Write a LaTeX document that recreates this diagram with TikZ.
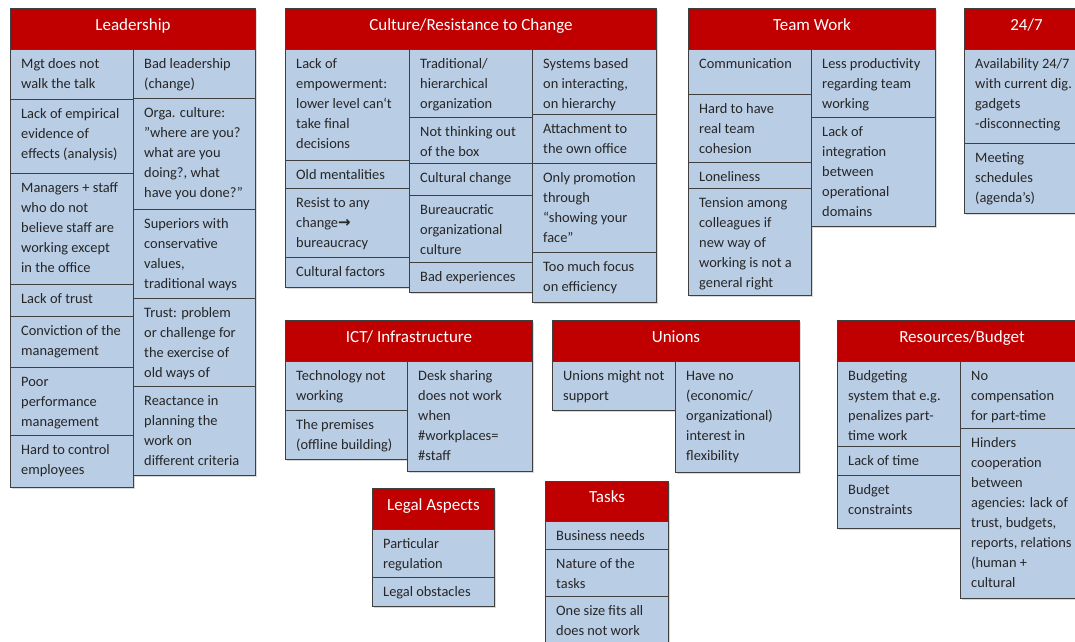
\documentclass[tikz,border=0pt]{standalone}
\usepackage{fontspec}
\setmainfont{Carlito}
\newfontfamily\arrowfont{DejaVu Sans}
\usepackage{tikz}
\usetikzlibrary{shadows}
\definecolor{headred}{HTML}{C00000}
\definecolor{cellblue}{HTML}{B9CDE5}
\definecolor{edgegray}{HTML}{3F3F3F}
\tikzstyle{headbox} = [draw=edgegray, line width=1pt, fill=headred, text=white,
   anchor=north west, inner sep=0pt, minimum height=41, text height=10, text depth=8,
   font=\fontsize{17}{20}\selectfont,
   drop shadow={shadow xshift=1.5pt, shadow yshift=-1.5pt, opacity=.3}]
\tikzstyle{cellbox} = [draw=edgegray, line width=1pt, fill=cellblue,
   anchor=north west, inner sep=0pt,
   drop shadow={shadow xshift=1.5pt, shadow yshift=-1.5pt, opacity=.3}]
\tikzstyle{celltext} = [anchor=north west, inner sep=0pt, align=left, text=black!85,
   font=\fontsize{14.4}{20}\selectfont]
% one cell: name, left, top, width, height, text
\newcommand{\mkcell}[6]{%
	\node[cellbox, minimum width=#4, minimum height=#5] (#1) at (#2,-#3) {};
	\node[celltext] (#1txt) at ([shift={(11,-5)}]#1.north west) {\strut #6};}

\begin{document}
\begin{tikzpicture}[x=1pt, y=1pt]
	\useasboundingbox (0,0) rectangle (1075,-641);
	\clip (0,0) rectangle (1075,-641);

	% Leadership
	\node[headbox, minimum width=245] (lead) at (10,-8) {Leadership};
	\mkcell{ldA}{10}{49}{123}{50}{Mgt does not\\walk the talk}
	\mkcell{ldB}{10}{99}{123}{74}{Lack of empirical\\evidence of\\effects (analysis)}
	\mkcell{ldC}{10}{173}{123}{111}{Managers + staff\\who do not\\believe staff are\\working except\\in the office}
	\mkcell{ldD}{10}{284}{123}{32}{Lack of trust}
	\mkcell{ldE}{10}{316}{123}{51}{Conviction of the\\management}
	\mkcell{ldF}{10}{367}{123}{68}{Poor\\performance\\management}
	\mkcell{ldG}{10}{435}{123}{52}{Hard to control\\employees}
	\mkcell{ldH}{133}{49}{122}{49}{Bad leadership\\(change)}
	\mkcell{ldI}{133}{98}{122}{111}{Orga. culture:\\”where are you?\\what are you\\doing?, what\\have you done?”}
	\mkcell{ldJ}{133}{209}{122}{89}{Superiors with\\conservative\\values,\\traditional ways}
	\mkcell{ldK}{133}{298}{122}{88}{Trust: problem\\or challenge for\\the exercise of\\old ways of}
	\mkcell{ldL}{133}{386}{122}{89}{Reactance in\\planning the\\work on\\different criteria}

	% Culture/Resistance to Change
	\node[headbox, minimum width=371] (cult) at (285,-8) {Culture/Resistance to Change};
	\mkcell{crA}{285}{49}{124}{111}{Lack of\\empowerment:\\lower level can`t\\take final\\decisions}
	\mkcell{crB}{285}{160}{124}{28}{Old mentalities}
	\mkcell{crC}{285}{188}{124}{69}{Resist to any\\change{\arrowfont\bfseries\fontsize{15}{20}\selectfont →}\\bureaucracy}
	\mkcell{crD}{285}{257}{124}{30}{Cultural factors}
	\mkcell{crE}{409}{49}{123}{68}{Traditional/\\hierarchical\\organization}
	\mkcell{crF}{409}{117}{123}{46}{Not thinking out\\of the box}
	\mkcell{crG}{409}{163}{123}{32}{Cultural change}
	\mkcell{crH}{409}{195}{123}{67}{Bureaucratic\\organizational\\culture}
	\mkcell{crI}{409}{262}{123}{30}{Bad experiences}
	\mkcell{crJ}{532}{49}{124}{65}{Systems based\\on interacting,\\on hierarchy}
	\mkcell{crK}{532}{114}{124}{49}{Attachment to\\the own office}
	\mkcell{crL}{532}{163}{124}{89}{Only promotion\\through\\“showing your\\face”}
	\mkcell{crM}{532}{252}{124}{50}{Too much focus\\on efficiency}

	% Team Work
	\node[headbox, minimum width=247] (team) at (688,-8) {Team Work};
	\mkcell{twA}{688}{49}{123}{45}{Communication}
	\mkcell{twB}{688}{94}{123}{68}{Hard to have\\real team\\cohesion}
	\mkcell{twC}{688}{162}{123}{26}{Loneliness}
	\mkcell{twD}{688}{188}{123}{107}{Tension among\\colleagues if\\new way of\\working is not a\\general right}
	\mkcell{twE}{811}{49}{124}{68}{Less productivity\\regarding team\\working}
	\mkcell{twF}{811}{117}{124}{109}{Lack of\\integration\\between\\operational\\domains}

	% 24/7
	\node[headbox, minimum width=124] (avail) at (964,-8) {24/7};
	\mkcell{avA}{964}{49}{124}{94}{Availability 24/7\\with current dig.\\gadgets\\-disconnecting}
	\mkcell{avB}{964}{143}{124}{70}{Meeting\\schedules\\(agenda’s)}

	% ICT/ Infrastructure
	\node[headbox, minimum width=247] (ict) at (285,-320) {ICT/ Infrastructure};
	\mkcell{icA}{285}{361}{122}{49}{Technology not\\working}
	\mkcell{icB}{285}{410}{122}{49}{The premises\\(offline building)}
	\mkcell{icC}{407}{361}{125}{110}{Desk sharing\\does not work\\when\\\#workplaces=\\\#staff}

	% Unions
	\node[headbox, minimum width=247] (unions) at (552,-320) {Unions};
	\mkcell{unA}{552}{361}{123}{49}{Unions might not\\support}
	\mkcell{unB}{675}{361}{124}{111}{Have no\\(economic/\\organizational)\\interest in\\flexibility}

	% Resources/Budget
	\node[headbox, minimum width=249] (budget) at (837,-320) {Resources/Budget};
	\mkcell{rbA}{837}{361}{123}{85}{Budgeting\\system that e.g.\\penalizes part-\\time work}
	\mkcell{rbB}{837}{446}{123}{29}{Lack of time}
	\mkcell{rbC}{837}{475}{123}{53}{Budget\\constraints}
	\mkcell{rbD}{960}{361}{126}{67}{No\\compensation\\for part-time}
	\mkcell{rbE}{960}{428}{126}{170}{Hinders\\cooperation\\between\\agencies: lack of\\trust, budgets,\\reports, relations\\(human +\\cultural}

	% Legal Aspects
	\node[headbox, minimum width=122] (legal) at (372,-488) {Legal Aspects};
	\mkcell{lgA}{372}{529}{122}{48}{Particular\\regulation}
	\mkcell{lgB}{372}{577}{122}{29}{Legal obstacles}

	% Tasks
	\node[headbox, minimum width=123, minimum height=40] (tasks) at (545,-481) {Tasks};
	\mkcell{tkA}{545}{521}{123}{28}{Business needs}
	\mkcell{tkB}{545}{549}{123}{47}{Nature of the\\tasks}
	\mkcell{tkC}{545}{596}{123}{60}{One size fits all\\does not work}
\end{tikzpicture}
\end{document}
